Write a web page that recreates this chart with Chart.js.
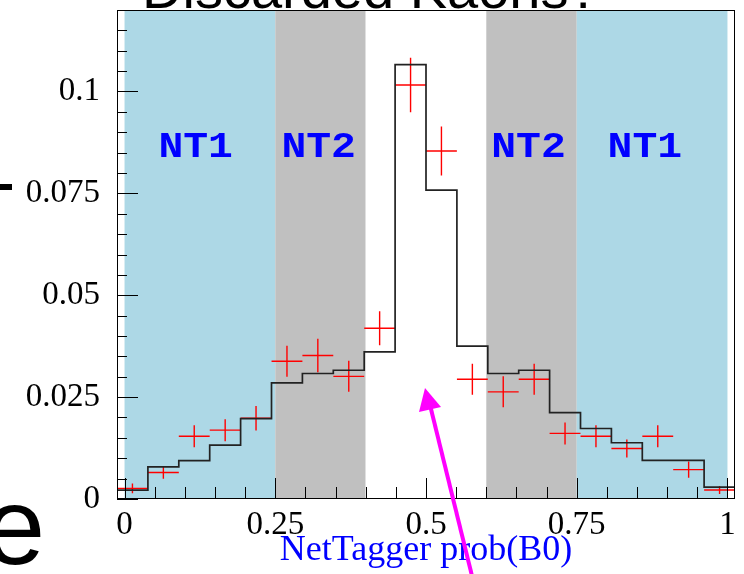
<!DOCTYPE html>
<html>
<head>
<meta charset="utf-8">
<script src="https://cdn.jsdelivr.net/npm/chart.js@4.4.1/dist/chart.umd.min.js"></script>
<style>
  html, body { margin: 0; padding: 0; background: #fff; }
  #wrap { width: 744px; height: 574px; }
</style>
</head>
<body>
<div id="wrap"><canvas id="chart" width="744" height="574"></canvas></div>
<script>
// histogram bin edges (20 bins) and the MC expectation in each bin
const binEdges = [-0.0125, 0.03875, 0.09, 0.14125, 0.1925, 0.24375, 0.295, 0.34625, 0.3975, 0.44875, 0.5,
                  0.55125, 0.6025, 0.65375, 0.705, 0.75625, 0.8075, 0.85875, 0.91, 0.96125, 1.0125];
const mcValues = [0.0022, 0.0079, 0.0094, 0.0132, 0.0197, 0.0285, 0.0308, 0.0316, 0.0361, 0.1066,
                  0.0758, 0.0375, 0.0308, 0.0316, 0.0212, 0.0173, 0.0138, 0.0095, 0.0095, 0.0029];

// data points (bin centres), values and errors
const binCenters = [0.0131, 0.0644, 0.1156, 0.1669, 0.2181, 0.2694, 0.3206, 0.3719, 0.4231, 0.4744,
                    0.5256, 0.5769, 0.6281, 0.6794, 0.7306, 0.7819, 0.8331, 0.8844, 0.9356, 0.9869];
const dataValues = [0.0026, 0.0065, 0.0154, 0.0169, 0.0198, 0.0338, 0.0352, 0.0301, 0.0419, 0.1016,
                    0.0854, 0.0294, 0.0263, 0.0294, 0.0161, 0.0154, 0.0124, 0.0154, 0.0072, 0.0022];
const dataErrors = [0.0012, 0.0015, 0.0027, 0.0027, 0.0030, 0.0038, 0.0041, 0.0038, 0.0042, 0.0067,
                    0.0060, 0.0038, 0.0038, 0.0038, 0.0027, 0.0027, 0.0022, 0.0027, 0.0020, 0.0010];
const halfBin = 0.0256;

// shaded NT regions
const regionEdges = [0, 0.25, 0.4, 0.6, 0.75, 1.0];
const regionColors = ['#add8e6', '#c0c0c0', '#ffffff', '#c0c0c0', '#add8e6'];
const regionLabels = ['NT1', 'NT2', 'NT2', 'NT1'];
const regionLabelX = [0.118, 0.322, 0.670, 0.863];
const regionLabelY = 0.084;

// axis ticks
const xTicks = [0, 0.25, 0.5, 0.75, 1];
const xTickLabels = ['0', '0.25', '0.5', '0.75', '1'];
const yTicks = [0, 0.025, 0.05, 0.075, 0.1];
const yTickLabels = ['0', '0.025', '0.05', '0.075', '0.1'];

// histogram outline: one point per left edge, last one closes the final bin
const histPoints = binEdges.map((x, i) => ({ x: x, y: mcValues[Math.min(i, mcValues.length - 1)] }));

// error crosses as line pieces separated by gaps
const crossPoints = [];
binCenters.forEach((c, i) => {
  const v = dataValues[i], e = dataErrors[i];
  crossPoints.push({ x: c - halfBin, y: v }, { x: c + halfBin, y: v }, { x: c, y: null });
  crossPoints.push({ x: c, y: v - e }, { x: c, y: v + e }, { x: c, y: null });
});

const regionsPlugin = {
  id: 'regions',
  beforeDatasetsDraw(chart) {
    const ctx = chart.ctx, xs = chart.scales.x, area = chart.chartArea;
    ctx.save();
    for (let i = 0; i < regionColors.length; i++) {
      const x0 = xs.getPixelForValue(regionEdges[i]);
      const x1 = xs.getPixelForValue(regionEdges[i + 1]);
      ctx.fillStyle = regionColors[i];
      ctx.fillRect(x0, area.top, x1 - x0, area.bottom - area.top);
    }
    ctx.fillStyle = '#0000ff';
    ctx.font = 'bold 36px "Liberation Mono", monospace';
    ctx.textAlign = 'center';
    ctx.textBaseline = 'alphabetic';
    const ly = chart.scales.y.getPixelForValue(regionLabelY);
    regionLabels.forEach((t, i) => {
      ctx.save();
      ctx.translate(xs.getPixelForValue(regionLabelX[i]), ly);
      ctx.scale(1.15, 1);
      ctx.fillText(t, 0, 0);
      ctx.restore();
    });
    ctx.restore();
  }
};

const frameTicksPlugin = {
  id: 'frameTicks',
  afterDatasetsDraw(chart) {
    const ctx = chart.ctx, xs = chart.scales.x, ys = chart.scales.y, a = chart.chartArea;
    ctx.save();
    ctx.strokeStyle = '#000';
    ctx.lineWidth = 1;
    ctx.strokeRect(Math.round(a.left) + 0.5, Math.round(a.top) + 0.5,
                   Math.round(a.right - a.left) - 1, Math.round(a.bottom - a.top) - 1);
    ctx.beginPath();
    // x axis ticks, 5 small divisions per label
    for (let k = 0; k <= 20; k++) {
      const v = k * 0.05;
      const px = Math.round(xs.getPixelForValue(v)) + 0.5;
      const len = (k % 5 === 0) ? 21 : 12;
      ctx.moveTo(px, a.bottom);
      ctx.lineTo(px, a.bottom - len);
    }
    // y axis ticks
    for (let k = 0; k <= 24; k++) {
      const v = k * 0.005;
      const py = Math.round(ys.getPixelForValue(v)) + 0.5;
      const len = (k % 5 === 0) ? 21 : 10;
      ctx.moveTo(a.left, py);
      ctx.lineTo(a.left + len, py);
    }
    ctx.stroke();
    ctx.restore();
  }
};

// bits of the surrounding slide that show round the plot
const slidePlugin = {
  id: 'slide',
  afterDraw(chart) {
    const ctx = chart.ctx;
    ctx.save();
    ctx.fillStyle = '#000';
    ctx.font = '56px "Liberation Sans", sans-serif';
    ctx.textBaseline = 'alphabetic';
    ctx.textAlign = 'left';
    ctx.fillText('Discarded Kaons?', 142, 8);
    ctx.font = '110px "Liberation Sans", sans-serif';
    ctx.fillText('e', -16, 564);
    ctx.fillRect(0, 184, 12, 6);
    // magenta arrow
    ctx.strokeStyle = '#ff00ff';
    ctx.fillStyle = '#ff00ff';
    ctx.lineWidth = 4;
    ctx.beginPath();
    ctx.moveTo(473, 580);
    ctx.lineTo(430, 405);
    ctx.stroke();
    ctx.beginPath();
    ctx.moveTo(425, 388);
    ctx.lineTo(441, 407);
    ctx.lineTo(419, 412);
    ctx.closePath();
    ctx.fill();
    ctx.restore();
  }
};

new Chart(document.getElementById('chart').getContext('2d'), {
  type: 'scatter',
  data: {
    datasets: [
      {
        label: 'MC',
        data: histPoints,
        showLine: true,
        stepped: 'before',
        borderColor: '#222',
        borderWidth: 1.7,
        pointRadius: 0,
        fill: false
      },
      {
        label: 'data',
        data: crossPoints,
        showLine: true,
        spanGaps: false,
        borderColor: '#ff0000',
        borderWidth: 1.4,
        pointRadius: 0,
        fill: false
      }
    ]
  },
  options: {
    responsive: false,
    animation: false,
    devicePixelRatio: 1,
    layout: { padding: { top: 10, right: 9, left: 0, bottom: 0 } },
    plugins: { legend: { display: false }, tooltip: { enabled: false } },
    scales: {
      x: {
        type: 'linear',
        min: -0.0125,
        max: 1.0125,
        afterBuildTicks: s => { s.ticks = xTicks.map(v => ({ value: v })); },
        afterFit: s => { s.height = 75; s.paddingLeft = 0; s.paddingRight = 0; },
        ticks: {
          autoSkip: false,
          maxRotation: 0,
          padding: 7,
          color: '#000',
          font: { family: 'Liberation Serif', size: 33 },
          callback: (v, i) => xTickLabels[i]
        },
        grid: { display: false, drawTicks: false },
        border: { display: false },
        title: {
          display: true,
          text: 'NetTagger prob(B0)',
          color: '#0000ff',
          font: { family: 'Liberation Serif', size: 36 },
          padding: { top: 0, bottom: 2 }
        }
      },
      y: {
        min: 0,
        max: 0.12,
        afterBuildTicks: s => { s.ticks = yTicks.map(v => ({ value: v })); },
        afterFit: s => { s.width = 117; s.paddingTop = 0; s.paddingBottom = 0; },
        ticks: {
          padding: 17,
          color: '#000',
          font: { family: 'Liberation Serif', size: 33 },
          callback: (v, i) => yTickLabels[i]
        },
        grid: { display: false, drawTicks: false },
        border: { display: false }
      }
    }
  },
  plugins: [regionsPlugin, frameTicksPlugin, slidePlugin]
});
</script>
</body>
</html>
